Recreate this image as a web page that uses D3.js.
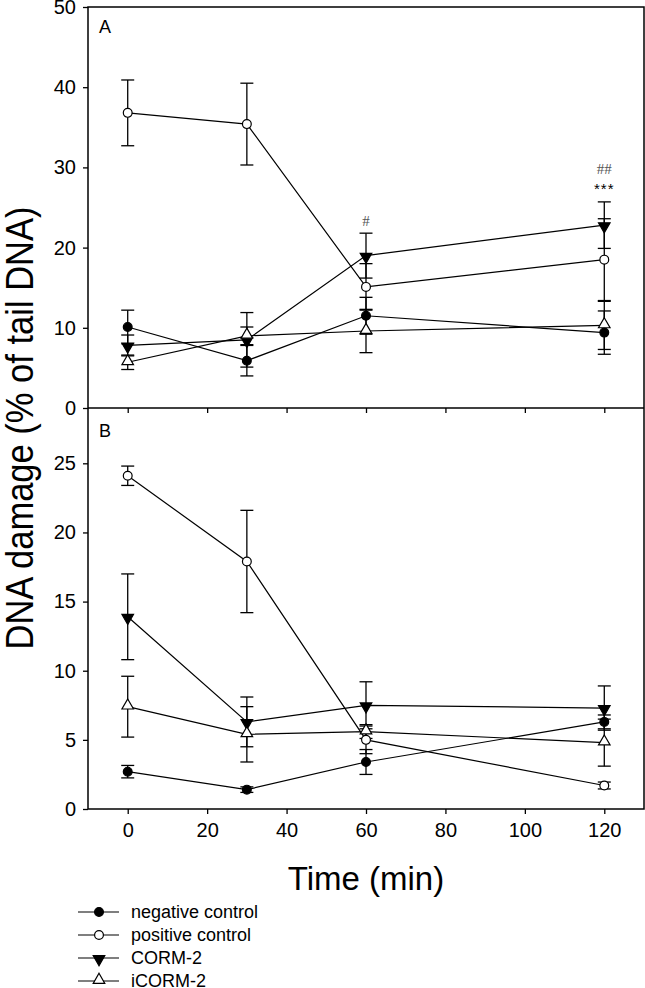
<!DOCTYPE html>
<html><head><meta charset="utf-8">
<script src="https://cdn.jsdelivr.net/npm/d3@7"></script>
<style>body{margin:0;background:#fff}svg{display:block}text{font-family:Arial,"Liberation Sans",sans-serif;fill:#000}</style>
</head><body>
<svg id="c" width="645" height="988"></svg>
<script>
// ---- data ----
const times = [0, 30, 60, 120];
const seriesNames = ["negative control", "positive control", "CORM-2", "iCORM-2"];
const xTicks = [0, 20, 40, 60, 80, 100, 120];
const yTicksA = [0, 10, 20, 30, 40, 50];
const yTicksB = [0, 5, 10, 15, 20, 25];
// Panel A
const negA = [10.1, 5.9, 11.5, 9.4],  negAErr = [2.1, 1.9, 2.3, 2.7];
const posA = [36.8, 35.4, 15.1, 18.5], posAErr = [4.1, 5.1, 2.9, 5.1];
const cormA = [7.8, 8.5, 19.0, 22.8], cormAErr = [1.3, 3.4, 2.8, 2.9];
const icormA = [5.7, 9.0, 9.6, 10.3], icormAErr = [0.9, 1.1, 2.7, 3.0];
// Panel B
const negB = [2.7, 1.4, 3.4, 6.3],    negBErr = [0.45, 0.2, 0.9, 0.5];
const posB = [24.1, 17.9, 5.0, 1.7],  posBErr = [0.7, 3.7, 1.0, 0.25];
const cormB = [13.9, 6.3, 7.5, 7.3],  cormBErr = [3.1, 1.8, 1.7, 1.6];
const icormB = [7.4, 5.4, 5.6, 4.8],  icormBErr = [2.2, 2.0, 0.5, 1.7];
// significance marks (panel A, above CORM-2)
const sigHash = ["", "", "#", "##"];
const sigStar = ["", "", "", "***"];

// ---- layout ----
const L = 88, R = 644, T = 7, MID = 408, B = 809;
const svg = d3.select("#c");
const x = d3.scaleLinear().domain([-10, 130]).range([L, R]);
const yA = d3.scaleLinear().domain([0, 50]).range([MID, T]);
const yB = d3.scaleLinear().domain([0, 29]).range([B, MID]);

const kinds = ["filledCircle", "openCircle", "filledDown", "openUp"];

function panel(y, series, label, labelY, ticksY) {
  const g = svg.append("g");
  series.forEach(s => {
    g.append("path").datum(times.map((t, i) => [t, s.v[i]]))
      .attr("d", d3.line().x(d => x(d[0])).y(d => y(d[1])))
      .attr("fill", "none").attr("stroke", "#000").attr("stroke-width", 1.2);
  });
  series.forEach(s => {
    times.forEach((t, i) => {
      const cx = x(t), lo = y(s.v[i] - s.e[i]), hi = y(s.v[i] + s.e[i]);
      g.append("line").attr("x1", cx).attr("x2", cx).attr("y1", lo).attr("y2", hi)
        .attr("stroke", "#000").attr("stroke-width", 1.3);
      [lo, hi].forEach(yy => g.append("line").attr("x1", cx - 6.5).attr("x2", cx + 6.5)
        .attr("y1", yy).attr("y2", yy).attr("stroke", "#000").attr("stroke-width", 1.3));
    });
  });
  series.forEach(s => {
    times.forEach((t, i) => drawMarker(g, s.kind, x(t), y(s.v[i])));
  });
  const ax = d3.axisLeft(y).tickValues(ticksY).tickSize(5).tickPadding(7);
  const ag = g.append("g").attr("transform", `translate(${L},0)`).call(ax);
  ag.select(".domain").remove();
  ag.selectAll("line").attr("stroke", "#000").attr("stroke-width", 1.3);
  ag.selectAll("text").style("font-size", "20px").attr("font-family", "Arial,'Liberation Sans',sans-serif");
  g.append("text").attr("x", 99).attr("y", labelY).style("font-size", "18px").text(label);
}

function drawMarker(g, kind, cx, cy) {
  if (kind === "filledCircle" || kind === "openCircle") {
    g.append("circle").attr("cx", cx).attr("cy", cy).attr("r", 4.4)
      .attr("fill", kind === "filledCircle" ? "#000" : "#fff").attr("stroke", "#000").attr("stroke-width", 1.2);
  } else {
    const down = kind === "filledDown";
    g.append("path").attr("d", d3.symbol(d3.symbolTriangle, 58)())
      .attr("transform", `translate(${cx},${cy + (down ? 1 : -1)}) rotate(${down ? 180 : 0})`)
      .attr("fill", down ? "#000" : "#fff").attr("stroke", "#000").attr("stroke-width", 1.2);
  }
}

const seriesA = [
  {v: negA, e: negAErr, kind: kinds[0]},
  {v: posA, e: posAErr, kind: kinds[1]},
  {v: cormA, e: cormAErr, kind: kinds[2]},
  {v: icormA, e: icormAErr, kind: kinds[3]}
];
const seriesB = [
  {v: negB, e: negBErr, kind: kinds[0]},
  {v: posB, e: posBErr, kind: kinds[1]},
  {v: cormB, e: cormBErr, kind: kinds[2]},
  {v: icormB, e: icormBErr, kind: kinds[3]}
];

panel(yA, seriesA, "A", 33, yTicksA);
panel(yB, seriesB, "B", 437, yTicksB);

// frame
const fr = svg.append("g").attr("stroke", "#000").attr("stroke-width", 1.5).attr("fill", "none");
fr.append("rect").attr("x", L).attr("y", T).attr("width", R - L).attr("height", B - T);
fr.append("line").attr("x1", L).attr("x2", R).attr("y1", MID).attr("y2", MID);

// x ticks on both axes (outward/down)
[MID, B].forEach(yy => {
  const xa = d3.axisBottom(x).tickValues(xTicks).tickSize(5).tickPadding(9)
    .tickFormat(yy === B ? d3.format("d") : () => "");
  const g = svg.append("g").attr("transform", `translate(0,${yy})`).call(xa);
  g.select(".domain").remove();
  g.selectAll("line").attr("stroke", "#000").attr("stroke-width", 1.3);
  g.selectAll("text").style("font-size", "20px").attr("font-family", "Arial,'Liberation Sans',sans-serif");
});

// significance
times.forEach((t, i) => {
  const top = yA(cormA[i] + cormAErr[i]);
  if (sigStar[i]) svg.append("text").attr("x", x(t)).attr("y", top - 8).attr("text-anchor", "middle")
    .style("font-size", "15px").style("letter-spacing", "1px").text(sigStar[i]);
  if (sigHash[i]) svg.append("text").attr("x", x(t)).attr("y", top - (sigStar[i] ? 28 : 7)).attr("text-anchor", "middle")
    .style("font-size", "15px").style("font-family", "'Liberation Serif',serif").style("fill", "#555").text(sigHash[i]);
});

// axis titles
svg.append("text").attr("transform", "translate(33,428) rotate(-90)").attr("text-anchor", "middle")
  .style("font-size", "38px").attr("textLength", 443).attr("lengthAdjust", "spacingAndGlyphs")
  .text("DNA damage (% of tail DNA)");
svg.append("text").attr("x", x(60)).attr("y", 890).attr("text-anchor", "middle")
  .style("font-size", "33px").text("Time (min)");

// legend
const legY = [912, 935, 958, 981];
seriesNames.forEach((n, i) => {
  const g = svg.append("g");
  g.append("line").attr("x1", 78).attr("x2", 119).attr("y1", legY[i]).attr("y2", legY[i])
    .attr("stroke", "#000").attr("stroke-width", 1.2);
  drawMarker(g, kinds[i], 99, legY[i]);
  g.append("text").attr("x", 131).attr("y", legY[i]).attr("dy", "0.35em").style("font-size", "18px").text(n);
});
</script>
</body></html>
